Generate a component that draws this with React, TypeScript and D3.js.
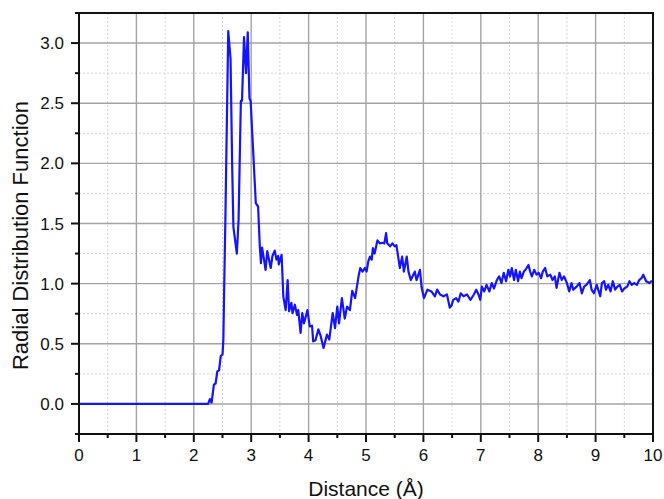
import React from 'react';
import * as d3 from 'd3';

// RDF curve (distance in Å, g(r))
const distance = [
  0, 1, 2, 2.25, 2.28, 2.31, 2.35, 2.38, 2.41, 2.44, 2.47, 2.5, 2.515, 2.53, 2.55, 2.6, 2.64, 2.67, 2.69, 2.75,
  2.78, 2.82, 2.84, 2.875, 2.91, 2.94, 2.97, 2.99, 3.08, 3.12, 3.15, 3.17, 3.19, 3.22, 3.25, 3.28, 3.31, 3.34,
  3.37, 3.41, 3.44, 3.47, 3.48, 3.53, 3.56, 3.6, 3.635, 3.66, 3.7, 3.72, 3.76, 3.8, 3.82, 3.86, 3.89, 3.92,
  3.98, 4.02, 4.06, 4.08, 4.12, 4.17, 4.21, 4.26, 4.32, 4.36, 4.42, 4.46, 4.5, 4.53, 4.58, 4.63, 4.67, 4.72,
  4.76, 4.81, 4.87, 4.9, 4.94, 4.98, 5.01, 5.04, 5.07, 5.1, 5.12, 5.15, 5.2, 5.24, 5.28, 5.32, 5.35, 5.37,
  5.42, 5.46, 5.5, 5.53, 5.56, 5.59, 5.63, 5.66, 5.71, 5.74, 5.78, 5.81, 5.85, 5.88, 5.94, 5.97, 6.01, 6.07,
  6.14, 6.2, 6.24, 6.29, 6.35, 6.41, 6.46, 6.49, 6.52, 6.57, 6.61, 6.65, 6.7, 6.76, 6.82, 6.88, 6.92, 6.96,
  6.99, 7.02, 7.06, 7.1, 7.15, 7.19, 7.23, 7.28, 7.32, 7.36, 7.4, 7.44, 7.48, 7.51, 7.54, 7.58, 7.61, 7.65,
  7.68, 7.71, 7.75, 7.78, 7.83, 7.86, 7.89, 7.93, 7.97, 8.01, 8.05, 8.08, 8.12, 8.16, 8.21, 8.25, 8.29, 8.32,
  8.37, 8.41, 8.45, 8.5, 8.54, 8.58, 8.61, 8.67, 8.72, 8.76, 8.8, 8.84, 8.9, 8.93, 8.97, 9.02, 9.08, 9.11,
  9.15, 9.18, 9.22, 9.26, 9.3, 9.34, 9.38, 9.42, 9.46, 9.5, 9.55, 9.59, 9.63, 9.67, 9.72, 9.76, 9.8, 9.83,
  9.88, 9.94, 9.97, 10,
];
const rdf = [
  0, 0, 0, 0, 0.04, 0.01, 0.16, 0.17, 0.27, 0.28, 0.4, 0.41, 0.535, 0.98, 1.53, 3.1, 2.87, 1.94, 1.47, 1.25,
  1.53, 2.52, 2.52, 3.05, 2.75, 3.09, 2.54, 2.52, 1.67, 1.64, 1.31, 1.17, 1.3, 1.21, 1.115, 1.27, 1.2, 1.13,
  1.23, 1.275, 1.2, 1.23, 1.16, 1.24, 0.89, 0.78, 1.03, 0.77, 0.84, 0.755, 0.825, 0.74, 0.78, 0.59, 0.755, 0.67,
  0.78, 0.645, 0.65, 0.52, 0.53, 0.62, 0.565, 0.465, 0.576, 0.535, 0.756, 0.63, 0.81, 0.67, 0.88, 0.71, 0.81, 0.78,
  0.94, 0.88, 1.06, 1.13, 1.1, 1.13, 1.1, 1.185, 1.225, 1.2, 1.295, 1.25, 1.36, 1.335, 1.34, 1.335, 1.42, 1.335,
  1.31, 1.335, 1.31, 1.32, 1.225, 1.13, 1.225, 1.1, 1.225, 1.1, 1.03, 1.06, 1.1, 1.03, 1.115, 0.965, 0.88, 0.95,
  0.935, 0.895, 0.95, 0.91, 0.895, 0.91, 0.8, 0.82, 0.865, 0.88, 0.85, 0.92, 0.895, 0.91, 0.865, 0.91, 0.95, 0.91,
  0.865, 0.975, 0.935, 0.99, 0.935, 1.005, 0.96, 1.03, 1.06, 1.005, 1.09, 1.02, 1.115, 1.06, 1.13, 1.03, 1.115, 1.02,
  1.1, 1.045, 1.1, 1.115, 1.155, 1.1, 1.06, 1.115, 1.075, 1.09, 1.045, 1.1, 1.13, 1.06, 1.075, 1.03, 1.06, 0.965,
  1.09, 1.03, 1.06, 1.005, 0.935, 1.005, 0.95, 0.975, 1.005, 0.92, 0.975, 0.99, 1.03, 0.95, 0.92, 0.99, 0.895, 1.005,
  1.02, 0.95, 0.99, 0.935, 1.02, 0.95, 0.975, 0.99, 0.935, 0.96, 0.975, 1.02, 0.99, 1.005, 0.99, 1.03, 1.045, 1.075,
  1.02, 1.005, 1.02, 1.02,
];

const xTicks = [0, 1, 2, 3, 4, 5, 6, 7, 8, 9, 10];
const xMinor = [0.5, 1.5, 2.5, 3.5, 4.5, 5.5, 6.5, 7.5, 8.5, 9.5];
const yTicks = [0, 0.5, 1, 1.5, 2, 2.5, 3];
const yMinor = [-0.25, 0.25, 0.75, 1.25, 1.75, 2.25, 2.75, 3.25];

const W = 664, H = 499;
const L = 79, R = 653, T = 13, B = 434;
const FONT = "'Liberation Sans', Arial, sans-serif";

export default function App() {
  const x = d3.scaleLinear().domain([0, 10]).range([L, R]);
  const y = d3.scaleLinear().domain([-0.25, 3.25]).range([B, T]);

  const line = d3.line<number>()
    .x((d, i) => x(distance[i]))
    .y(d => y(d));

  return (
    <svg width={W} height={H} style={{ position: 'absolute', left: 0, top: 0, background: '#fff' }}>
      {/* minor grid */}
      {xMinor.map(t => (
        <line key={'xm' + t} x1={x(t)} x2={x(t)} y1={T} y2={B} stroke="#d4d4d4" strokeDasharray="2,2" />
      ))}
      {yMinor.map(t => (
        <line key={'ym' + t} x1={L} x2={R} y1={y(t)} y2={y(t)} stroke="#d4d4d4" strokeDasharray="2,2" />
      ))}
      {/* major grid */}
      {xTicks.map(t => (
        <line key={'xg' + t} x1={x(t)} x2={x(t)} y1={T} y2={B} stroke="#a4a4a4" strokeWidth={1.4} />
      ))}
      {yTicks.map(t => (
        <line key={'yg' + t} x1={L} x2={R} y1={y(t)} y2={y(t)} stroke="#a4a4a4" strokeWidth={1.4} />
      ))}

      <path d={line(rdf) || ''} fill="none" stroke="#1414ff" strokeWidth={2.2} strokeLinejoin="round" />

      {/* frame */}
      <rect x={L} y={T} width={R - L} height={B - T} fill="none" stroke="#111" strokeWidth={2} />

      {/* x ticks */}
      {xTicks.map(t => (
        <g key={'xt' + t}>
          <line x1={x(t)} x2={x(t)} y1={B} y2={B + 8} stroke="#111" strokeWidth={2} />
          <text x={x(t)} y={B + 27} textAnchor="middle" fontSize={17} fontFamily={FONT} fill="#111">{t}</text>
        </g>
      ))}
      {xMinor.map(t => (
        <line key={'xmt' + t} x1={x(t)} x2={x(t)} y1={B} y2={B + 4} stroke="#111" strokeWidth={2} />
      ))}
      {/* y ticks */}
      {yTicks.map(t => (
        <g key={'yt' + t}>
          <line x1={L - 8} x2={L} y1={y(t)} y2={y(t)} stroke="#111" strokeWidth={2} />
          <text x={L - 15} y={y(t) + 6} textAnchor="end" fontSize={17} fontFamily={FONT} fill="#111">{t.toFixed(1)}</text>
        </g>
      ))}
      {yMinor.map(t => (
        <line key={'ymt' + t} x1={L - 4} x2={L} y1={y(t)} y2={y(t)} stroke="#111" strokeWidth={2} />
      ))}

      <text x={(L + R) / 2} y={496} textAnchor="middle" fontSize={21} fontFamily={FONT} fill="#111">Distance (Å)</text>
      <text transform={`translate(28, ${(T + B) / 2 + 12}) rotate(-90)`} textAnchor="middle" fontSize={22} fontFamily={FONT} fill="#111">
        Radial Distribution Function
      </text>
    </svg>
  );
}
